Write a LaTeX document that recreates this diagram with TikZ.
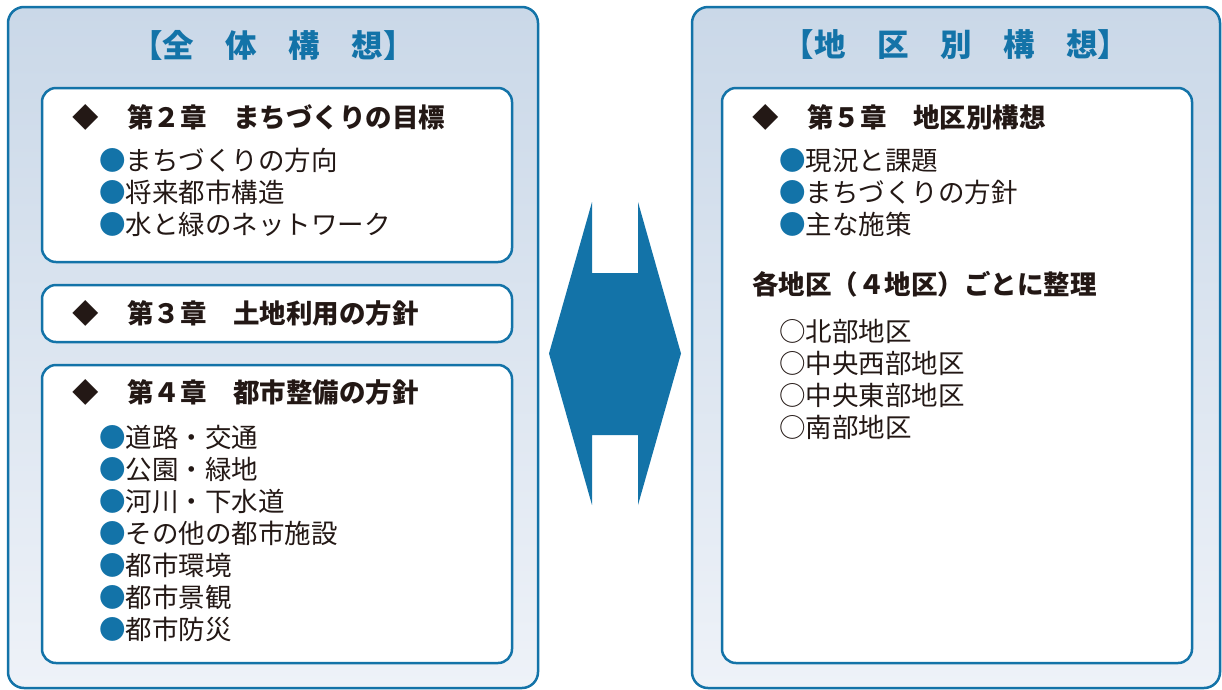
\documentclass[tikz,border=0pt]{standalone}
\usepackage{fontspec}
\newfontfamily\jp{Noto Sans CJK JP}
\definecolor{mainblue}{HTML}{1373A8}
\definecolor{bgtop}{HTML}{CAD8E8}
\definecolor{bgbot}{HTML}{EEF2F8}
\definecolor{ink}{HTML}{231815}
\tikzset{
  panel/.style={draw=mainblue, line width=2.5pt, rounded corners=16pt, top color=bgtop, bottom color=bgbot, inner sep=0pt},
  box/.style={draw=mainblue, line width=2.5pt, rounded corners=14pt, fill=white, inner sep=0pt},
  ttl/.style={font=\jp\bfseries\fontsize{31.5}{36}\selectfont, text=mainblue, inner sep=0pt},
  txt/.style={font=\jp\fontsize{26.5}{32}\selectfont, text=ink, inner sep=0pt, anchor=west, text height=23.3pt, text depth=3.2pt},
  hd/.style={txt, font=\jp\bfseries\fontsize{26.5}{32}\selectfont},
  dia/.style={hd, anchor=center},
  bul/.style={txt}
}
\newcommand{\bl}{{\color{mainblue}●}}
\begin{document}
\begin{tikzpicture}[x=1pt,y=-1pt]
\useasboundingbox (0,0) rectangle (1222,689);
% panels
\node[panel, minimum width=530pt, minimum height=681pt] (PL) at (273,347.5) {};
\node[panel, minimum width=528pt, minimum height=681pt] (PR) at (956,347.5) {};
\node[ttl] (TL) at (273,45) {【全　体　構　想】};
\node[ttl] (TR) at (956,45) {【地　区　別　構　想】};
% left boxes
\node[box, minimum width=470pt, minimum height=174pt] (B1) at (277,175) {};
\node[box, minimum width=470pt, minimum height=57pt] (B2) at (277,313.5) {};
\node[box, minimum width=470pt, minimum height=298pt] (B3) at (277,514) {};
% right box
\node[box, minimum width=470pt, minimum height=575pt] (B5) at (957,375.5) {};
% arrow
\fill[mainblue] (592,202) -- (592,273) -- (638,273) -- (638,202) -- (681,353.5) -- (638,505) -- (638,435) -- (592,435) -- (592,505) -- (549,353.5) -- cycle;
% box 1
\node[dia] (d2) at (86,117) {◆};
\node[hd] (h2) at (127,117) {第２章　まちづくりの目標};
\node[bul] (i21) at (99,160) {\bl まちづくりの方向};
\node[bul] (i22) at (99,192) {\bl 将来都市構造};
\node[bul] (i23) at (99,224) {\bl 水と緑のネットワーク};
% box 2
\node[dia] (d3) at (86,313) {◆};
\node[hd] (h3) at (127,313) {第３章　土地利用の方針};
% box 3
\node[dia] (d4) at (86,392) {◆};
\node[hd] (h4) at (127,392) {第４章　都市整備の方針};
\node[bul] (i41) at (99,437) {\bl 道路・交通};
\node[bul] (i42) at (99,469) {\bl 公園・緑地};
\node[bul] (i43) at (99,501) {\bl 河川・下水道};
\node[bul] (i44) at (99,533) {\bl その他の都市施設};
\node[bul] (i45) at (99,565) {\bl 都市環境};
\node[bul] (i46) at (99,597) {\bl 都市景観};
\node[bul] (i47) at (99,629) {\bl 都市防災};
% right box
\node[dia] (d5) at (766,117) {◆};
\node[hd] (h5) at (807,117) {第５章　地区別構想};
\node[bul] (i51) at (779,160) {\bl 現況と課題};
\node[bul] (i52) at (779,192) {\bl まちづくりの方針};
\node[bul] (i53) at (779,224) {\bl 主な施策};
\node[hd] (s5) at (752,284) {各地区（４地区）ごとに整理};
\node[txt] (k1) at (779,331) {○北部地区};
\node[txt] (k2) at (779,363) {○中央西部地区};
\node[txt] (k3) at (779,395) {○中央東部地区};
\node[txt] (k4) at (779,427) {○南部地区};
\end{tikzpicture}
\end{document}
